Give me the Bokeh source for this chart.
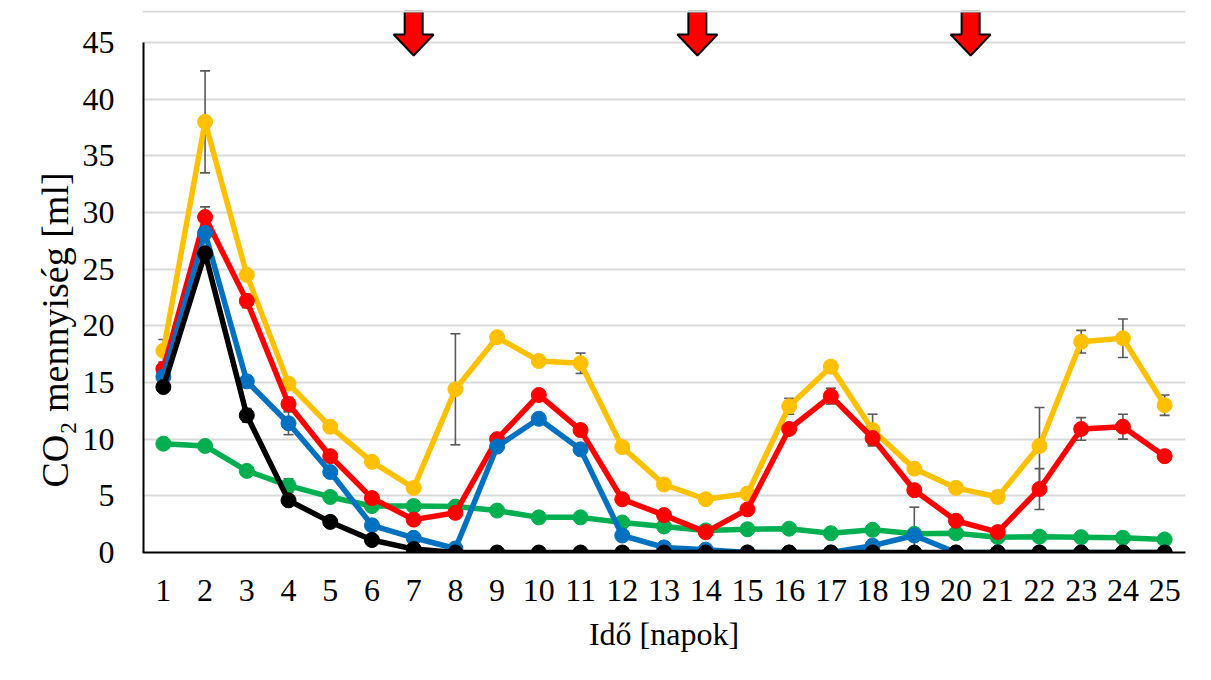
import numpy as np
from bokeh.plotting import figure
from bokeh.models import FixedTicker, Range1d, Span, Title
from bokeh.embed import file_html
from bokeh.resources import INLINE

# ---------------- data ----------------
days = list(range(1, 26))
day_labels = [str(d) for d in days]
y_ticks = [0, 5, 10, 15, 20, 25, 30, 35, 40, 45]

yellow = [17.8, 38.0, 24.5, 14.9, 11.1, 8.0, 5.7, 14.4, 19.0, 16.9, 16.7, 9.3, 6.0,
          4.7, 5.2, 12.9, 16.4, 10.8, 7.4, 5.7, 4.9, 9.4, 18.6, 18.9, 13.0]
red = [16.2, 29.6, 22.2, 13.1, 8.5, 4.8, 2.9, 3.5, 10.0, 13.9, 10.8, 4.7, 3.3,
       1.8, 3.8, 10.9, 13.8, 10.1, 5.5, 2.8, 1.8, 5.6, 10.9, 11.1, 8.5]
blue = [15.5, 28.2, 15.1, 11.4, 7.1, 2.4, 1.3, 0.35, 9.35, 11.8, 9.1, 1.5, 0.45,
        0.25, 0.0, 0.0, 0.0, 0.6, 1.5, 0.0, 0.0, 0.0, 0.0, 0.0, 0.0]
black = [14.6, 26.4, 12.1, 4.6, 2.7, 1.1, 0.3, 0.0, 0.0, 0.0, 0.0, 0.0, 0.0,
         0.0, 0.0, 0.0, 0.0, 0.0, 0.0, 0.0, 0.0, 0.0, 0.0, 0.0, 0.0]
green = [9.6, 9.4, 7.2, 5.9, 4.9, 4.1, 4.1, 4.05, 3.7, 3.1, 3.1, 2.65, 2.3,
         1.95, 2.05, 2.1, 1.7, 2.0, 1.65, 1.7, 1.35, 1.4, 1.35, 1.3, 1.15]

# error bar half-lengths (0 = no visible bar)
yellow_err = [1.0, 4.5, 0, 0, 0, 0, 0, 4.9, 0.4, 0, 0.9, 0, 0,
              0, 0, 0.7, 0.4, 1.4, 0, 0, 0.5, 3.4, 1.0, 1.7, 0.9]
red_err = [0, 0.9, 0.6, 0.6, 0, 0, 0, 0, 0, 0, 0, 0, 0,
           0, 0, 0, 0.7, 0.6, 0, 0, 0, 1.8, 1.0, 1.1, 0]
blue_err = [0, 0, 0, 1.0, 0, 0, 0, 0, 0, 0, 0, 0, 0,
            0, 0, 0, 0, 0, 2.5, 0, 0, 0, 0, 0, 0]
black_err = [0, 0, 0.6, 0, 0, 0, 0, 0, 0, 0, 0, 0, 0,
             0, 0, 0, 0, 0, 0, 0, 0, 0, 0, 0, 0]
green_err = [0, 0, 0, 0.6, 0, 0, 0, 0, 0, 0, 0, 0, 0,
             0, 0, 0, 0, 0, 0, 0, 0, 0, 0, 0, 0]

# treatment arrows (day positions)
arrow_days = [7.0, 13.8, 20.35]

x_title = "Idő [napok]"
y_title = "CO\u2082 mennyiség [ml]"

# ---------------- layout ----------------
W, H = 1208, 678
ML, MR, MT, MB = 142, 23, 10, 126
frame_w = W - ML - MR
frame_h = H - MT - MB
x_start, x_end = 0.5, 25.5
px_per_y = 510 / 45.0
y_end = frame_h / px_per_y
px_per_x = frame_w / (x_end - x_start)

FONT = "Liberation Serif"

p = figure(width=W, height=H, x_range=Range1d(x_start, x_end), y_range=Range1d(0, y_end),
           output_backend="svg", toolbar_location=None,
           min_border_left=ML, min_border_right=MR, min_border_top=MT, min_border_bottom=MB)
p.background_fill_color = "white"
p.border_fill_color = "white"
p.outline_line_color = None

# axes
p.xaxis.ticker = FixedTicker(ticks=days)
p.xaxis.major_label_overrides = {d: s for d, s in zip(days, day_labels)}
p.yaxis.ticker = FixedTicker(ticks=y_ticks)
for ax in (p.xaxis[0], p.yaxis[0]):
    ax.major_tick_line_color = None
    ax.minor_tick_line_color = None
    ax.major_tick_in = 0
    ax.major_tick_out = 0
    ax.minor_tick_in = 0
    ax.minor_tick_out = 0
    ax.major_label_text_font = FONT
    ax.major_label_text_font_size = "32px"
    ax.major_label_text_color = "black"
p.xaxis.axis_line_color = "black"
p.xaxis.axis_line_width = 2
p.xaxis.major_label_standoff = 27
p.yaxis.axis_line_color = None
p.yaxis.major_label_standoff = 28

p.xaxis.axis_label = x_title
p.xaxis.axis_label_text_font = FONT
p.xaxis.axis_label_text_font_size = "32px"
p.xaxis.axis_label_text_font_style = "normal"
p.xaxis.axis_label_text_color = "black"
p.xaxis.axis_label_standoff = 12

p.xgrid.visible = False
p.ygrid.ticker = FixedTicker(ticks=y_ticks[1:])
p.ygrid.grid_line_color = "#d9d9d9"
p.ygrid.grid_line_width = 2

# y axis title, placed along the 0-45 part of the axis
p.add_layout(Title(text=y_title, align="left", offset=65, standoff=8,
                   text_font=FONT, text_font_size="38px", text_font_style="normal",
                   text_color="black"), "left")

# outer chart border (top edge)
p.add_layout(Span(location=y_end - 1.0 / px_per_y, dimension="width",
                  line_color="#d9d9d9", line_width=2))

# y axis line only up to 45
p.segment(x0=[x_start], y0=[0], x1=[x_start], y1=[y_ticks[-1]], line_color="black", line_width=4)

# error bars (under the series)
cap = 5.0 / px_per_x
series = [
    (green, green_err, "#00B050"),
    (yellow, yellow_err, "#FFC000"),
    (red, red_err, "#FF0000"),
    (blue, blue_err, "#0070C0"),
    (black, black_err, "#000000"),
]
for vals, errs, col in series:
    xs = [d for d, e in zip(days, errs) if e > 0]
    lo = [v - e for v, e in zip(vals, errs) if e > 0]
    hi = [v + e for v, e in zip(vals, errs) if e > 0]
    if not xs:
        continue
    p.segment(x0=xs, y0=lo, x1=xs, y1=hi, line_color="#595959", line_width=1.6)
    p.segment(x0=[x - cap for x in xs], y0=hi, x1=[x + cap for x in xs], y1=hi,
              line_color="#595959", line_width=1.6)
    p.segment(x0=[x - cap for x in xs], y0=lo, x1=[x + cap for x in xs], y1=lo,
              line_color="#595959", line_width=1.6)

# series
for vals, errs, col in series:
    p.line(days, vals, line_color=col, line_width=5.5)
    p.scatter(days, vals, size=15, fill_color=col, line_color=col)

# arrows (block arrows pointing down, drawn above the 45 line)
top_px, base_px, tip_px = 11.0, 34.0, 55.0   # page y
frame_top_page = MT
def yd(page_y):
    return y_end - (page_y - frame_top_page) / px_per_y
hw_head, hw_shaft = 20.0 / px_per_x, 9.0 / px_per_x
axs, ays = [], []
for ad in arrow_days:
    axs.append([ad - hw_shaft, ad + hw_shaft, ad + hw_shaft, ad + hw_head, ad,
                ad - hw_head, ad - hw_shaft])
    ays.append([yd(top_px), yd(top_px), yd(base_px), yd(base_px), yd(tip_px),
                yd(base_px), yd(base_px)])
p.patches(axs, ays, fill_color="#FF0000", line_color="black", line_width=2)

open("out.html", "w").write(file_html(p, INLINE))
